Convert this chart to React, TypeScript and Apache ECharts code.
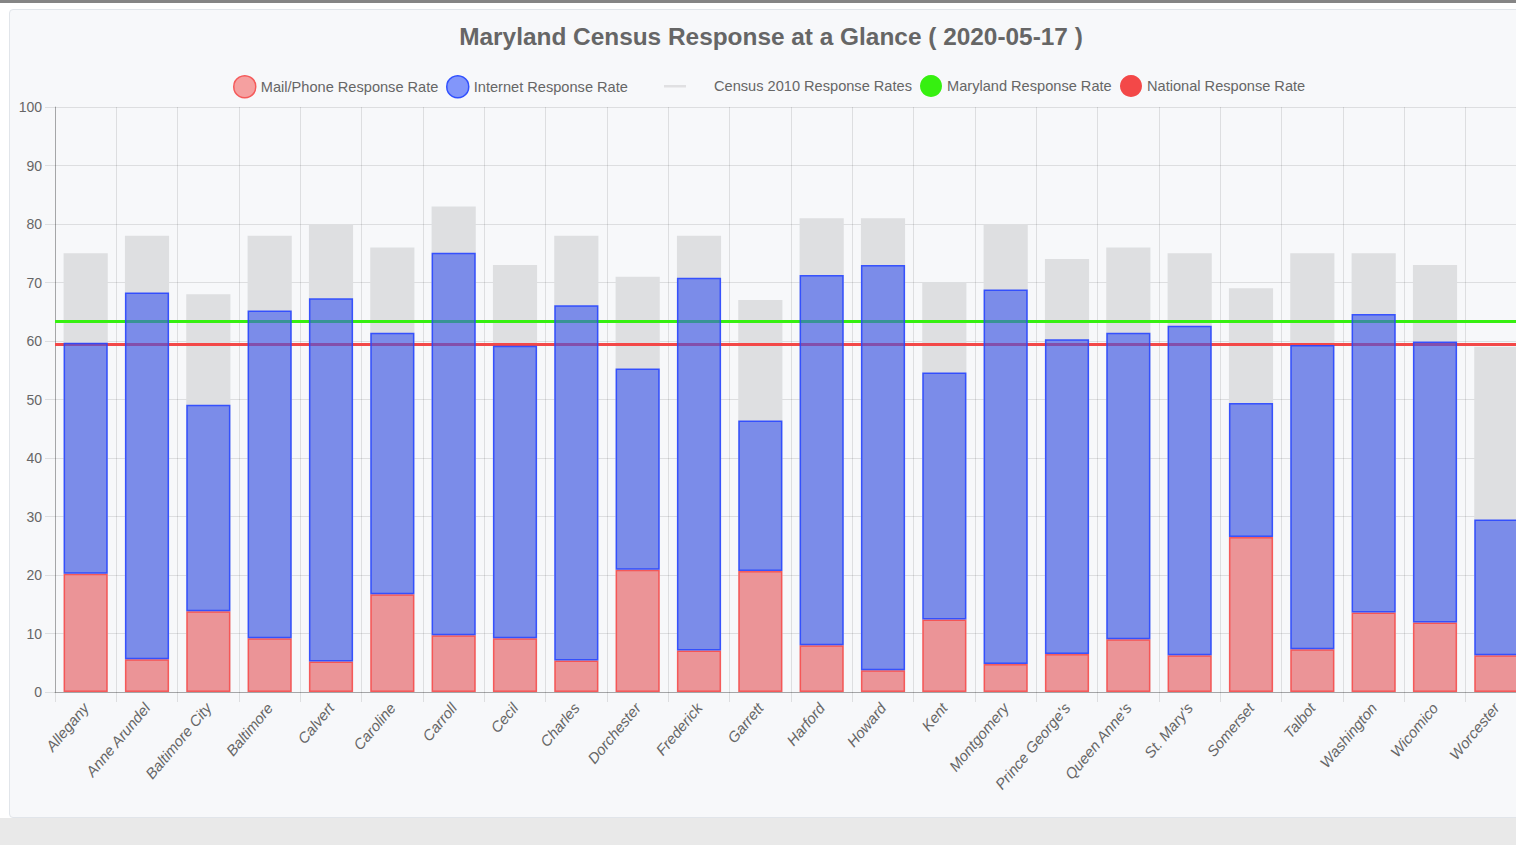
import React, { useEffect, useRef } from "react";
import * as echarts from "echarts";

const counties = [
  "Allegany", "Anne Arundel", "Baltimore City", "Baltimore", "Calvert", "Caroline",
  "Carroll", "Cecil", "Charles", "Dorchester", "Frederick", "Garrett", "Harford",
  "Howard", "Kent", "Montgomery", "Prince George's", "Queen Anne's", "St. Mary's",
  "Somerset", "Talbot", "Washington", "Wicomico", "Worcester",
];
const mailRates = [
  20.2, 5.6, 13.8, 9.2, 5.2, 16.7, 9.7, 9.2, 5.4, 20.9, 7.1, 20.7, 8.0, 3.7, 12.4,
  4.8, 6.5, 9.0, 6.3, 26.5, 7.3, 13.6, 11.9, 6.3,
];
const internetRates = [
  39.5, 62.7, 35.3, 56.0, 62.1, 44.7, 65.4, 50.0, 60.7, 34.4, 63.7, 25.7, 63.3,
  69.3, 42.2, 64.0, 53.8, 52.4, 56.3, 22.9, 52.0, 51.0, 48.0, 23.2,
];
const census2010 = [
  75, 78, 68, 78, 80, 76, 83, 73, 78, 71, 78, 67, 81, 81, 70, 80, 74, 76, 75, 69,
  75, 75, 73, 59,
];
const marylandRate = 63.4;
const nationalRate = 59.4;
const yMin = 0;
const yMax = 100;
const yInterval = 10;

const FONT = "'Liberation Sans', Arial, Helvetica, sans-serif";

export default function App() {
  const ref = useRef<HTMLDivElement>(null);

  useEffect(() => {
    const chart = echarts.init(ref.current as HTMLDivElement, null, { renderer: "svg" });
    const legendBase = {
      top: 65,
      padding: 0,
      itemWidth: 22,
      itemHeight: 22,
      selectedMode: false,
      textStyle: { color: "#666", fontSize: 14.6, fontFamily: FONT },
    };
    chart.setOption({
      animation: false,
      title: {
        text: "Maryland Census Response at a Glance ( 2020-05-17 )",
        left: "center",
        top: 14,
        padding: 0,
        textStyle: { color: "#666", fontSize: 24.4, fontWeight: "bold", fontFamily: FONT },
      },
      legend: [
        {
          ...legendBase,
          left: 223,
          data: [{ name: "Mail/Phone Response Rate", icon: "circle", itemStyle: { color: "rgba(245,160,160,1)", borderColor: "#f55a5a", borderWidth: 1.5 } }],
        },
        {
          ...legendBase,
          left: 436,
          data: [{ name: "Internet Response Rate", icon: "circle", itemStyle: { color: "rgba(130,150,250,1)", borderColor: "#3050ff", borderWidth: 1.5 } }],
        },
        {
          ...legendBase,
          left: 654,
          itemWidth: 45,
          data: [{ name: "Census 2010 Response Rates", icon: "path://M0,0 M45,22 M0,10 L22,10 L22,12.5 L0,12.5 Z", itemStyle: { color: "#e0e0e2", borderWidth: 0 } }],
        },
        {
          ...legendBase,
          left: 910,
          data: [{ name: "Maryland Response Rate", icon: "circle", itemStyle: { color: "#36f010", borderWidth: 0 } }],
        },
        {
          ...legendBase,
          left: 1110,
          data: [{ name: "National Response Rate", icon: "circle", itemStyle: { color: "#f34848", borderWidth: 0 } }],
        },
      ],
      grid: { left: 45, right: 5, top: 97, bottom: 125, containLabel: false },
      xAxis: {
        type: "category",
        data: counties,
        boundaryGap: true,
        axisLine: { show: true, lineStyle: { color: "rgba(0,0,0,0.25)", width: 1 } },
        axisTick: { show: true, interval: 0, length: 10, lineStyle: { color: "rgba(0,0,0,0.1)" } },
        splitLine: { show: true, interval: 0, lineStyle: { color: "rgba(0,0,0,0.1)" } },
        axisLabel: {
          interval: 0,
          rotate: 50,
          margin: 13,
          color: "#666",
          fontSize: 15,
          fontStyle: "italic",
          fontFamily: FONT,
        },
      },
      yAxis: {
        type: "value",
        min: yMin,
        max: yMax,
        interval: yInterval,
        axisLine: { show: true, lineStyle: { color: "rgba(0,0,0,0.25)", width: 1 } },
        axisTick: { show: true, length: 10, lineStyle: { color: "rgba(0,0,0,0.1)" } },
        splitLine: { show: true, lineStyle: { color: "rgba(0,0,0,0.1)" } },
        axisLabel: { color: "#666", fontSize: 14, margin: 13, fontFamily: FONT },
      },
      series: [
        {
          name: "Census 2010 Response Rates",
          type: "bar",
          data: census2010,
          barWidth: "72%",
          barGap: "-100%",
          z: 1,
          itemStyle: { color: "#dedfe1" },
          emphasis: { disabled: true },
        },
        {
          name: "Mail/Phone Response Rate",
          type: "bar",
          stack: "total",
          data: mailRates,
          barWidth: "72%",
          barGap: "-100%",
          z: 3,
          itemStyle: { color: "rgba(243,99,101,0.6)", borderColor: "rgba(248,70,70,0.85)", borderWidth: 1.5 },
          emphasis: { disabled: true },
        },
        {
          name: "Internet Response Rate",
          type: "bar",
          stack: "total",
          data: internetRates,
          barWidth: "72%",
          barGap: "-100%",
          z: 3,
          itemStyle: { color: "rgba(56,85,239,0.6)", borderColor: "rgba(40,70,255,0.9)", borderWidth: 1.5 },
          emphasis: { disabled: true },
        },
        {
          name: "Maryland Response Rate",
          type: "line",
          data: [],
          itemStyle: { color: "#36f010" },
          lineStyle: { color: "#36f010" },
          markLine: {
            silent: true,
            z: 2,
            symbol: ["none", "none"],
            label: { show: false },
            lineStyle: { color: "#36f010", width: 3, type: "solid" },
            emphasis: { disabled: true },
            data: [{ yAxis: marylandRate }],
          },
        },
        {
          name: "National Response Rate",
          type: "line",
          data: [],
          itemStyle: { color: "#f34848" },
          lineStyle: { color: "#f34848" },
          markLine: {
            silent: true,
            z: 2,
            symbol: ["none", "none"],
            label: { show: false },
            lineStyle: { color: "#f34848", width: 3, type: "solid" },
            emphasis: { disabled: true },
            data: [{ yAxis: nationalRate }],
          },
        },
      ],
    });
    return () => chart.dispose();
  }, []);

  return (
    <div style={{ position: "fixed", left: 0, top: 0, width: 1516, height: 845, overflow: "hidden", background: "#ffffff" }}>
      <div style={{ position: "absolute", left: 0, top: 0, width: 1516, height: 3, background: "#858585" }} />
      <div style={{ position: "absolute", left: 0, top: 818, width: 1516, height: 27, background: "#e9e9e9" }} />
      <div
        style={{
          position: "absolute",
          left: 9,
          top: 9,
          width: 1540,
          height: 809,
          boxSizing: "border-box",
          border: "1px solid #e1e5ea",
          borderRadius: 4,
          background: "#f7f8fa",
        }}
      />
      <div ref={ref} style={{ position: "absolute", left: 10, top: 10, width: 1522, height: 807 }} />
    </div>
  );
}
